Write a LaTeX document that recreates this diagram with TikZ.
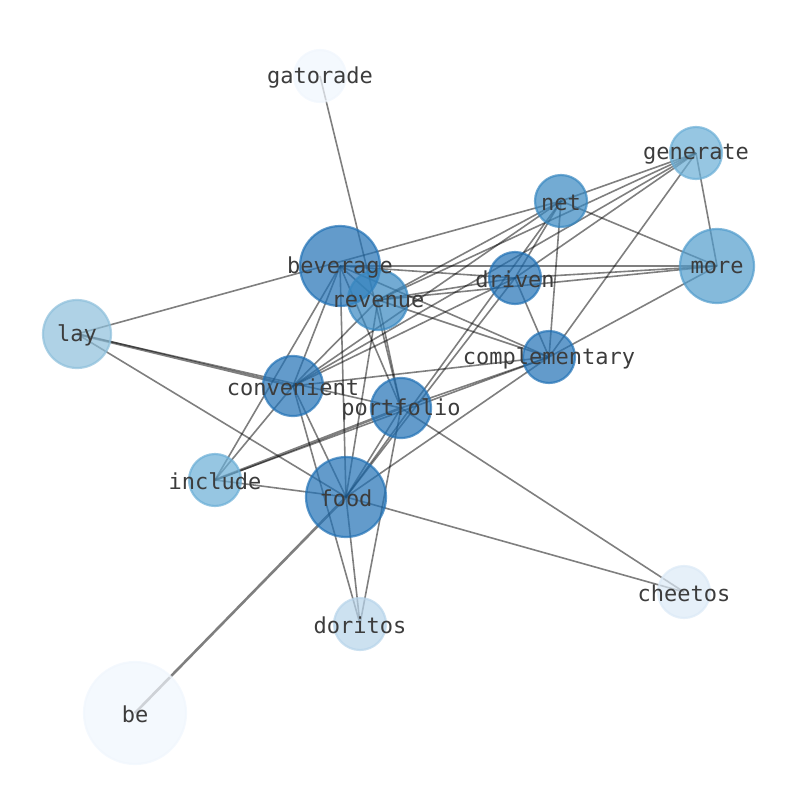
\documentclass[tikz,border=0pt]{standalone}
\usepackage{fontspec}
\setmonofont{DejaVu Sans Mono}
\usetikzlibrary{backgrounds}
\definecolor{cDark}{HTML}{2171B5}
\definecolor{cMid}{HTML}{3787C0}
\definecolor{cMore}{HTML}{519CCC}
\definecolor{cLight}{HTML}{6AAED6}
\definecolor{cLay}{HTML}{8DBFDB}
\definecolor{cDor}{HTML}{B7D4EA}
\definecolor{cChe}{HTML}{DBE9F6}
\definecolor{cPale}{HTML}{F0F6FD}
\definecolor{txt}{RGB}{60,60,60}
\tikzset{
  vtx/.style={circle, inner sep=0pt, minimum size=#1, opacity=0.7, line width=2.2pt},
  lbl/.style={font=\ttfamily\fontsize{22}{22}\selectfont, text=txt, inner sep=0pt, yshift=-1.5pt},
  lnk/.style={black, opacity=0.5, line width=1.6pt},
  lnkw/.style={black, opacity=0.5, line width=2.6pt},
}
\begin{document}
\begin{tikzpicture}[x=1pt,y=-1pt]
\useasboundingbox (0,0) rectangle (794,790);
% nodes
\node[vtx=52pt, draw=cPale, fill=cPale] (G) at (320,76) {};
\node[vtx=52pt, draw=cLight, fill=cLight] (Ge) at (696,153) {};
\node[vtx=52pt, draw=cMid, fill=cMid] (N) at (561,201) {};
\node[vtx=80pt, draw=cDark, fill=cDark] (B) at (340,266) {};
\node[vtx=52pt, draw=cDark, fill=cDark] (D) at (515,278) {};
\node[vtx=74pt, draw=cMore, fill=cMore] (M) at (717,266) {};
\node[vtx=60pt, draw=cMid, fill=cMid] (R) at (378,300) {};
\node[vtx=68pt, draw=cLay, fill=cLay] (L) at (77,334) {};
\node[vtx=52pt, draw=cDark, fill=cDark] (C) at (549,357) {};
\node[vtx=60pt, draw=cDark, fill=cDark] (V) at (293,386) {};
\node[vtx=60pt, draw=cDark, fill=cDark] (P) at (401,408) {};
\node[vtx=52pt, draw=cLight, fill=cLight] (I) at (215,480) {};
\node[vtx=80pt, draw=cDark, fill=cDark] (F) at (346,497) {};
\node[vtx=52pt, draw=cChe, fill=cChe] (Ch) at (684,592) {};
\node[vtx=52pt, draw=cDor, fill=cDor] (Do) at (360,624) {};
\node[vtx=102pt, draw=cPale, fill=cPale] (Be) at (135,713) {};
% edges
\begin{pgfonlayer}{background}
\foreach \a/\b in {G/P, Ch/F, Ch/P, Do/V, Do/F, Do/P,
  L/P, L/F, L/N, I/F, I/V, I/B, I/C,
  Ge/N, Ge/M, Ge/C, Ge/R, Ge/V, Ge/D,
  N/M, N/C, N/D, N/R, N/V, N/F,
  M/C, M/B, M/D, M/R,
  C/D, C/R, C/B, C/V, C/P, C/F,
  B/D, B/R, B/F, B/P, B/V,
  R/D, R/V, R/F, R/P,
  V/F, V/D, P/F, F/D}
  \draw[lnk] (\a.center) -- (\b.center);
\foreach \a/\b in {Be/F, L/V, I/P}
  \draw[lnkw] (\a.center) -- (\b.center);
\end{pgfonlayer}
% labels
\node[lbl] (tG) at (G) {gatorade};
\node[lbl] (tGe) at (Ge) {generate};
\node[lbl] (tN) at (N) {net};
\node[lbl] (tB) at (B) {beverage};
\node[lbl] (tD) at (D) {driven};
\node[lbl] (tM) at (M) {more};
\node[lbl] (tR) at (R) {revenue};
\node[lbl] (tL) at (L) {lay};
\node[lbl] (tC) at (C) {complementary};
\node[lbl] (tV) at (V) {convenient};
\node[lbl] (tP) at (P) {portfolio};
\node[lbl] (tI) at (I) {include};
\node[lbl] (tF) at (F) {food};
\node[lbl] (tCh) at (Ch) {cheetos};
\node[lbl] (tDo) at (Do) {doritos};
\node[lbl] (tBe) at (Be) {be};
\end{tikzpicture}
\end{document}
